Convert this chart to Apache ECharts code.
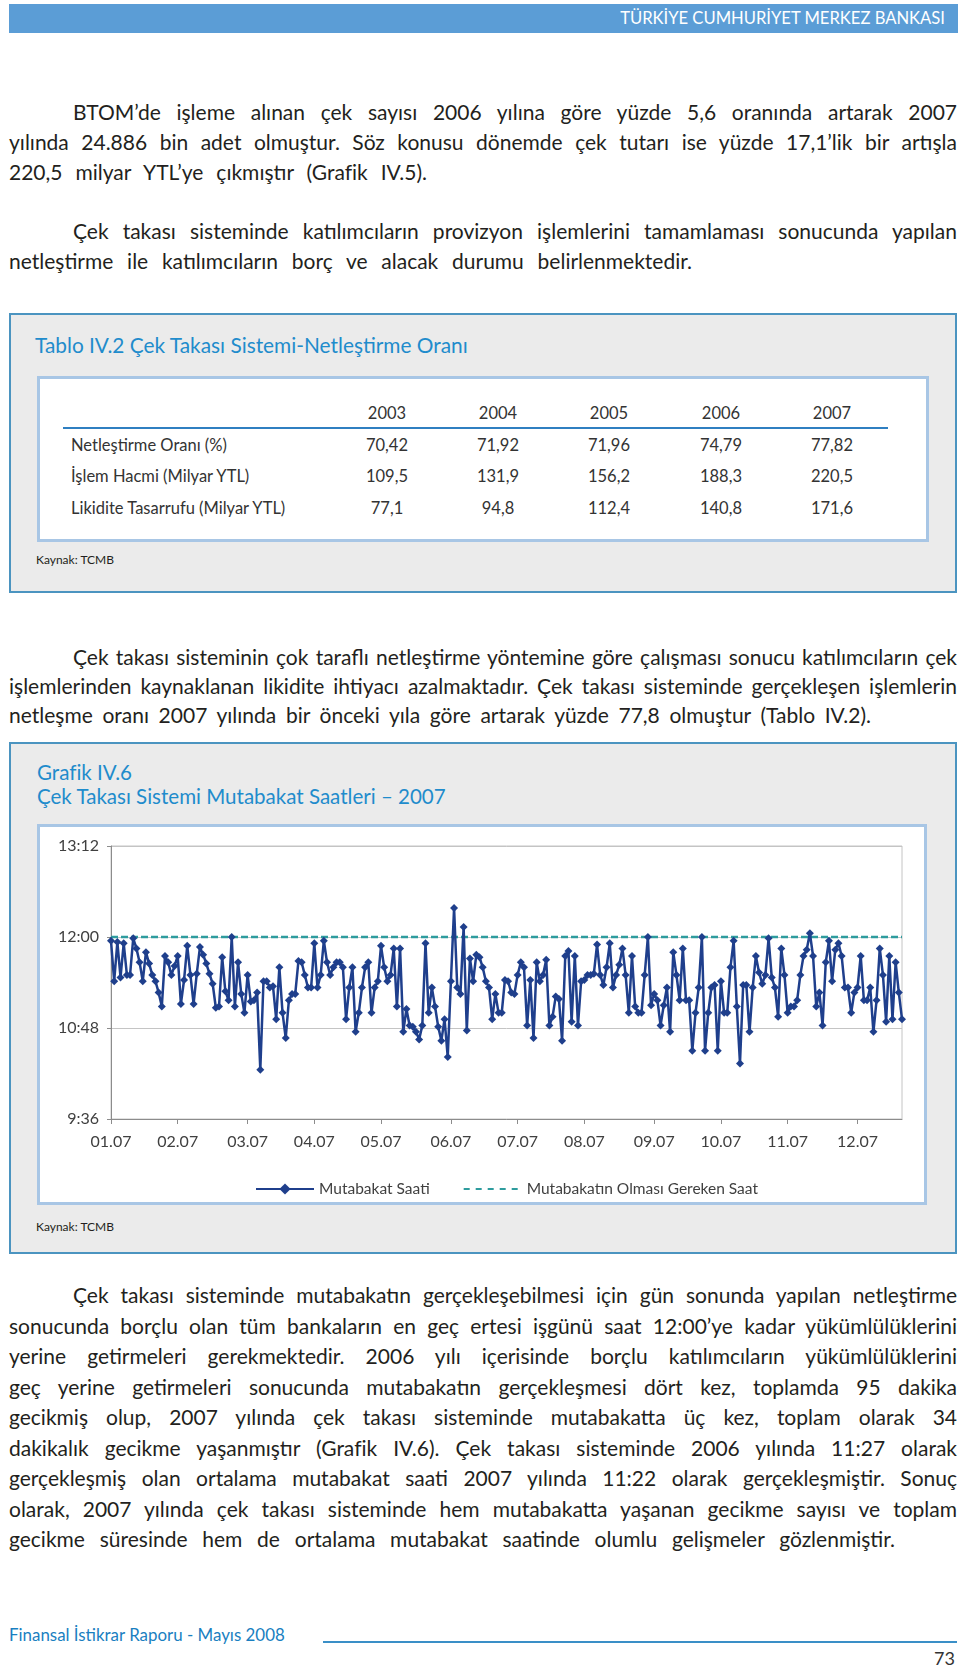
<!DOCTYPE html>
<html lang="tr">
<head>
<meta charset="utf-8">
<script src="https://cdn.jsdelivr.net/npm/echarts@6.0.0/dist/echarts.min.js"></script>
<style>
  html, body { margin: 0; padding: 0; background: #fff; }
  body { width: 960px; height: 1670px; position: relative; overflow: hidden; font-family: Lato, "Noto Sans", sans-serif; color: #231f20; }
  .abs { position: absolute; }
  .bar { left: 9px; top: 4px; width: 949px; height: 29px; background: #5b9dd6; }
  .bar span { position: absolute; right: 13px; top: 0; line-height: 29px; color: #fff; font-size: 15px; white-space: nowrap; }
  .para { position: absolute; left: 9px; width: 948px; font-size: 21px; }
  .para div { white-space: nowrap; }
  .ind { margin-left: 64px; }
  .box { background: #ebebeb; border: 2px solid #4b94c0; box-sizing: border-box; }
  .panel { background: #fff; border: 3px solid #a8c6e5; box-sizing: border-box; }
  .ttl { color: #1f8ccc; font-size: 18px; white-space: nowrap; line-height: 24px; }
  .tb { font-size: 16.5px; color: #333; line-height: 24px; white-space: nowrap; }
  .num { width: 80px; text-align: center; margin-left: -40px; }
  .src { font-size: 12px; color: #231f20; line-height: 16px; white-space: nowrap; }
</style>
</head>
<body>
<div class="abs bar"><span id="hdr">TÜRKİYE CUMHURİYET MERKEZ BANKASI</span></div>

<div class="para" style="top:97px; line-height:30px;">
  <div class="ind j" data-w="884">BTOM’de işleme alınan çek sayısı 2006 yılına göre yüzde 5,6 oranında artarak 2007</div>
  <div class="j" data-w="948">yılında 24.886 bin adet olmuştur. Söz konusu dönemde çek tutarı ise yüzde 17,1’lik bir artışla</div>
  <div class="j" data-w="418">220,5 milyar YTL’ye çıkmıştır (Grafik IV.5).</div>
</div>

<div class="para" style="top:216px; line-height:30px;">
  <div class="ind j" data-w="884">Çek takası sisteminde katılımcıların provizyon işlemlerini tamamlaması sonucunda yapılan</div>
  <div class="j" data-w="683">netleştirme ile katılımcıların borç ve alacak durumu belirlenmektedir.</div>
</div>

<!-- Tablo IV.2 -->
<div class="abs box" style="left:9px; top:313px; width:948px; height:280px;"></div>
<div class="abs ttl" id="t1" style="left:35px; top:333px;">Tablo IV.2 Çek Takası Sistemi-Netleştirme Oranı</div>
<div class="abs panel" style="left:37px; top:376px; width:892px; height:166px;"></div>
<div class="abs" style="left:63px; top:426.5px; width:825px; height:2px; background:#2f7fc1;"></div>
<div id="tbl"></div>
<div class="abs src" style="left:36px; top:552px;">Kaynak: TCMB</div>

<div class="para" style="top:642px; line-height:29.2px;">
  <div class="ind j" data-w="884">Çek takası sisteminin çok taraflı netleştirme yöntemine göre çalışması sonucu katılımcıların çek</div>
  <div class="j" data-w="948">işlemlerinden kaynaklanan likidite ihtiyacı azalmaktadır. Çek takası sisteminde gerçekleşen işlemlerin</div>
  <div class="j" data-w="862">netleşme oranı 2007 yılında bir önceki yıla göre artarak yüzde 77,8 olmuştur (Tablo IV.2).</div>
</div>

<!-- Grafik IV.6 -->
<div class="abs box" style="left:9px; top:742px; width:948px; height:512px;"></div>
<div class="abs ttl" id="g1" style="left:37px; top:760px;">Grafik IV.6</div>
<div class="abs ttl" id="g2" style="left:37px; top:784px;">Çek Takası Sistemi Mutabakat Saatleri – 2007</div>
<div class="abs panel" style="left:37px; top:824px; width:890px; height:381px;"></div>
<div class="abs" id="chart" style="left:37px; top:824px; width:890px; height:381px;"></div>
<div class="abs src" style="left:36px; top:1219px;">Kaynak: TCMB</div>

<div class="para" style="top:1280px; line-height:30.5px;">
  <div class="ind j" data-w="884">Çek takası sisteminde mutabakatın gerçekleşebilmesi için gün sonunda yapılan netleştirme</div>
  <div class="j" data-w="948">sonucunda borçlu olan tüm bankaların en geç ertesi işgünü saat 12:00’ye kadar yükümlülüklerini</div>
  <div class="j" data-w="948">yerine getirmeleri gerekmektedir. 2006 yılı içerisinde borçlu katılımcıların yükümlülüklerini</div>
  <div class="j" data-w="948">geç yerine getirmeleri sonucunda mutabakatın gerçekleşmesi dört kez, toplamda 95 dakika</div>
  <div class="j" data-w="948">gecikmiş olup, 2007 yılında çek takası sisteminde mutabakatta üç kez, toplam olarak 34</div>
  <div class="j" data-w="948">dakikalık gecikme yaşanmıştır (Grafik IV.6). Çek takası sisteminde 2006 yılında 11:27 olarak</div>
  <div class="j" data-w="948">gerçekleşmiş olan ortalama mutabakat saati 2007 yılında 11:22 olarak gerçekleşmiştir. Sonuç</div>
  <div class="j" data-w="948">olarak, 2007 yılında çek takası sisteminde hem mutabakatta yaşanan gecikme sayısı ve toplam</div>
  <div class="j" data-w="886">gecikme süresinde hem de ortalama mutabakat saatinde olumlu gelişmeler gözlenmiştir.</div>
</div>

<div class="abs ttl" id="ft" style="left:9px; top:1623px; font-size:16px; color:#1a7fc1;">Finansal İstikrar Raporu - Mayıs 2008</div>
<div class="abs" style="left:323px; top:1641px; width:634px; height:2px; background:#3a8fc7;"></div>
<div class="abs" style="right:5px; top:1647px; font-size:18px; line-height:22px; color:#333;">73</div>

<script>
// ---------------- TABLE DATA ----------------
const tableYears = ['2003', '2004', '2005', '2006', '2007'];
const rowLabels = ['Netleştirme Oranı (%)', 'İşlem Hacmi (Milyar YTL)', 'Likidite Tasarrufu (Milyar YTL)'];
const netlestirmeOrani = ['70,42', '71,92', '71,96', '74,79', '77,82'];
const islemHacmi = ['109,5', '131,9', '156,2', '188,3', '220,5'];
const likiditeTasarrufu = ['77,1', '94,8', '112,4', '140,8', '171,6'];

// ---------------- CHART DATA ----------------
// x-axis tick labels (month.year)
const monthLabels = ['01.07', '02.07', '03.07', '04.07', '05.07', '06.07', '07.07', '08.07', '09.07', '10.07', '11.07', '12.07'];
// Mutabakat saati per business day, in minutes after midnight
const part1 = [717,685,716,688,715,690,690,719,711,700,685,708,699,690,685,676,665,705,700,690,
               697,705,667,686,713,690,667,691,712,706,699,691,683,664,665,704,677,670,720,665,
               700,675,660,690,669,670,676,615,685,685,680,681,655,696,660];
const part2 = [640,670,675,675,701,700,690,680,680,715,680,690,717,700,690,696,700,700,696,655,
               680,696,645,660,680,696,700,660,680,685,713,696,685,690,711,665,711,645,663,650,
               649,645,639,650,715,660,680,665,649,638,655,625,685,743,680,675,728,646,703,685,
               706,704,696,685,680,655,675,660,660,686,685,676,675,690,700];
const part3 = [696,650,686,640,700,685,690,702,650,657,673,671,638,705,709,653,705,650,685,686,
               690,690,691,714,690,682,696,715,680,690,698,711,690,660,705,665,660,660,690,720,
               666,675,670,650,666,680,645,708,690,670,711,670,670,630,660,680,720,630,660,680,
               682,630,685,660,660,696,717,665,620,682,682,645];
const part4 = [680,705,692,683,690,719,688,680,657,711,690,660,665,665,670,690,705,710,723,705,
               665,676,650,700,717,685,710,715,705,680,680,660,676,680,705,670,670,680,645,670,
               711,690,653,705,655,700,676,655];
const hedefSaat = 720; // 12:00 – Mutabakatın olması gereken saat
const yMin = 576, yMax = 792, yStep = 72; // 9:36 … 13:12

// ---------------- TABLE BUILD ----------------
(function () {
  const t = document.getElementById('tbl');
  const colX = [387, 498, 609, 721, 832];
  const rowY = [445, 476, 508];
  const add = (txt, cls, left, cy) => {
    const d = document.createElement('div');
    d.className = 'abs tb ' + cls;
    d.style.left = left + 'px';
    d.style.top = (cy - 12) + 'px';
    d.textContent = txt;
    t.appendChild(d);
  };
  tableYears.forEach((y, i) => add(y, 'num', colX[i], 413));
  const rows = [netlestirmeOrani, islemHacmi, likiditeTasarrufu];
  rows.forEach((r, ri) => {
    add(rowLabels[ri], '', 71, rowY[ri]);
    r.forEach((v, i) => add(v, 'num', colX[i], rowY[ri]));
  });
})();

// ---------------- TEXT FITTING ----------------
function textWidth(el) {
  const r = document.createRange();
  r.selectNodeContents(el);
  return r.getBoundingClientRect().width;
}
document.querySelectorAll('.j').forEach(el => {
  const target = parseFloat(el.dataset.w);
  const w = textWidth(el);
  const n = (el.textContent.match(/ /g) || []).length;
  if (n) el.style.wordSpacing = ((target - w) / n) + 'px';
});
function fit(id, target) {
  const el = document.getElementById(id);
  const fs = parseFloat(getComputedStyle(el).fontSize);
  el.style.fontSize = (fs * target / textWidth(el)) + 'px';
}
fit('hdr', 325);
fit('t1', 433);
fit('g1', 95);
fit('g2', 409);
fit('ft', 276);

// ---------------- CHART ----------------
const mutabakat = part1.concat(part2, part3, part4);
const N = mutabakat.length;
const cats = mutabakat.map((_, i) => String(i));
const labelSteps = 11.67; // label steps visible across the axis
const labelIdx = monthLabels.map((_, k) => Math.round(k * (N - 1) / labelSteps));
const fmtTime = v => Math.floor(v / 60) + ':' + String(v % 60).padStart(2, '0');

const chart = echarts.init(document.getElementById('chart'), null, { renderer: 'canvas' });
chart.setOption({
  animation: false,
  textStyle: { fontFamily: 'Lato' },
  grid: { left: 74, right: 25, top: 22, bottom: 86, show: true, borderColor: '#c4c4c4', borderWidth: 1, containLabel: false },
  xAxis: {
    type: 'category',
    data: cats,
    boundaryGap: false,
    axisLine: { lineStyle: { color: '#8c8c8c', width: 1 } },
    axisTick: { show: true, length: 5, interval: (i) => labelIdx.includes(i), lineStyle: { color: '#8c8c8c' } },
    axisLabel: {
      interval: (i) => labelIdx.includes(i),
      formatter: (v, i) => monthLabels[labelIdx.indexOf(Number(v))],
      margin: 15, color: '#404040', fontSize: 16, fontFamily: 'Lato'
    },
    splitLine: { show: false }
  },
  yAxis: {
    type: 'value',
    min: yMin, max: yMax, interval: yStep,
    axisLine: { show: true, lineStyle: { color: '#8c8c8c', width: 1 } },
    axisTick: { show: true, length: 4, lineStyle: { color: '#8c8c8c' } },
    axisLabel: { formatter: fmtTime, margin: 12, color: '#404040', fontSize: 16, fontFamily: 'Lato' },
    splitLine: { show: true, lineStyle: { color: '#c4c4c4', width: 1 } }
  },
  legend: {
    data: [
      { name: 'Mutabakat Saati' },
      { name: 'Mutabakatın Olması Gereken Saat', itemStyle: { opacity: 0 }, lineStyle: { type: [6, 6] } }
    ],
    left: 213, top: 352,
    itemWidth: 58, itemHeight: 14, itemGap: 33,
    textStyle: { fontSize: 15.5, color: '#404040', fontFamily: 'Lato' }
  },
  series: [
    {
      name: 'Mutabakatın Olması Gereken Saat',
      type: 'line',
      data: mutabakat.map(() => hedefSaat),
      symbol: 'circle',
      symbolSize: 0,
      showSymbol: false,
      lineStyle: { color: '#2e9c9e', width: 2.5, type: [7, 3] },
      itemStyle: { color: '#2e9c9e' },
      z: 2
    },
    {
      name: 'Mutabakat Saati',
      type: 'line',
      data: mutabakat,
      symbol: 'diamond',
      symbolSize: 8,
      showAllSymbol: true,
      lineStyle: { color: '#1f3f8c', width: 2.5 },
      itemStyle: { color: '#1f3f8c' },
      z: 3
    }
  ]
});
</script>
</body>
</html>
